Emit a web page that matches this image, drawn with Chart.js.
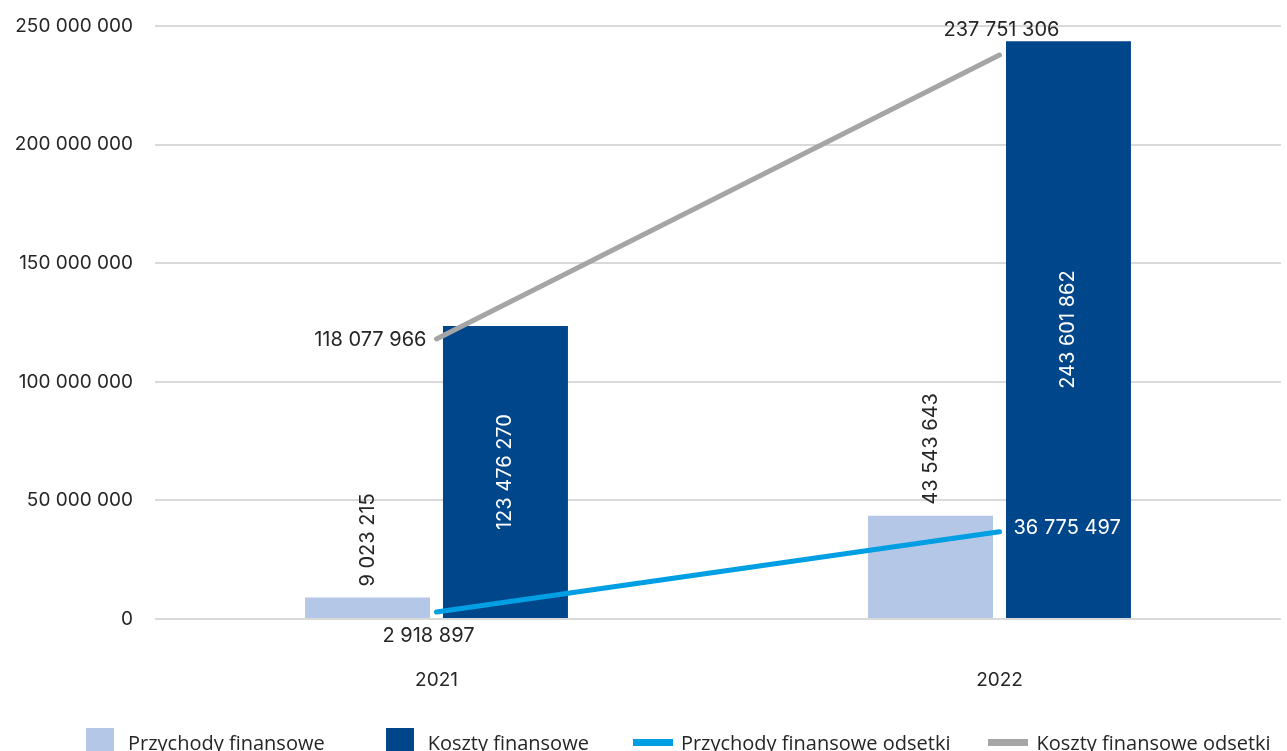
<!DOCTYPE html>
<html>
<head>
<meta charset="utf-8">
<script src="https://cdn.jsdelivr.net/npm/chart.js@4/dist/chart.umd.min.js"></script>
<style>
    html, body { margin: 0; padding: 0; background: #fff; overflow: hidden; }
    #wrap { position: relative; width: 1287px; height: 751px; }
    #legend { position: absolute; left: 86px; top: 728px; display: flex; align-items: center; font-family: "Open Sans", sans-serif; font-size: 20px; color: #262626; white-space: nowrap; }
    .item { display: flex; align-items: center; margin-right: 44px; height: 28px; }
    .item:first-child { margin-right: 61px; }
    .item:nth-child(3) { margin-right: 38px; }
    .item .sw { margin-right: 14px; }
</style>
</head>
<body>
<div id="wrap">
    <canvas id="chart" width="1287" height="751"></canvas>
    <div id="legend"></div>
</div>
<script>
// dane
var years = ['2021', '2022'];
var przychodyFin = [9023215, 43543643];
var kosztyFin = [123476270, 243601862];
var przychodyOdsetki = [2918897, 36775497];
var kosztyOdsetki = [118077966, 237751306];
var yTicks = [0, 50000000, 100000000, 150000000, 200000000, 250000000];

var FONT = 'Inter, "Noto Sans", sans-serif';
var TEXT = '#262626';

function fmt(v) {
    return String(Math.round(v)).replace(/\B(?=(\d{3})+(?!\d))/g, ' ');
}

// etykiety danych (bez pluginu datalabels)
var labelsPlugin = {
    id: 'valueLabels',
    afterDatasetsDraw: function (chart) {
        var ctx = chart.ctx;
        chart.data.datasets.forEach(function (ds, di) {
            var meta = chart.getDatasetMeta(di);
            meta.data.forEach(function (el, i) {
                var txt = fmt(ds.data[i]);
                var pos = ds.labelPos[i];
                ctx.save();
                ctx.font = '20px ' + FONT;
                ctx.fillStyle = ds.labelColor[i];
                if (pos === 'top-rot') {
                    ctx.translate(el.x, el.y - 11);
                    ctx.rotate(-Math.PI / 2);
                    ctx.textAlign = 'left';
                    ctx.textBaseline = 'middle';
                    ctx.fillText(txt, 0, 0);
                } else if (pos === 'center-rot') {
                    ctx.translate(el.x, (el.y + el.base) / 2);
                    ctx.rotate(-Math.PI / 2);
                    ctx.textAlign = 'center';
                    ctx.textBaseline = 'middle';
                    ctx.fillText(txt, 0, 0);
                } else if (pos === 'below') {
                    ctx.textAlign = 'center';
                    ctx.textBaseline = 'middle';
                    ctx.fillText(txt, el.x - 8, el.y + 24);
                } else if (pos === 'right') {
                    ctx.textAlign = 'left';
                    ctx.textBaseline = 'middle';
                    ctx.fillText(txt, el.x + 14, el.y - 4);
                } else if (pos === 'left') {
                    ctx.textAlign = 'right';
                    ctx.textBaseline = 'middle';
                    ctx.fillText(txt, el.x - 10, el.y + 1);
                } else if (pos === 'above') {
                    ctx.textAlign = 'center';
                    ctx.textBaseline = 'middle';
                    ctx.fillText(txt, el.x + 2, el.y - 25);
                }
                ctx.restore();
            });
        });
    }
};

var datasets = [
    {
        type: 'bar',
        label: 'Przychody finansowe',
        data: przychodyFin,
        backgroundColor: '#B4C7E7',
        order: 2,
        labelPos: ['top-rot', 'top-rot'],
        labelColor: [TEXT, TEXT]
    },
    {
        type: 'bar',
        label: 'Koszty finansowe',
        data: kosztyFin,
        backgroundColor: '#00468A',
        order: 2,
        labelPos: ['center-rot', 'center-rot'],
        labelColor: ['#fff', '#fff']
    },
    {
        type: 'line',
        label: 'Przychody finansowe odsetki',
        data: przychodyOdsetki,
        borderColor: '#009FE3',
        borderWidth: 5,
        borderCapStyle: 'round',
        pointRadius: 0,
        order: 1,
        labelPos: ['below', 'right'],
        labelColor: [TEXT, '#fff']
    },
    {
        type: 'line',
        label: 'Koszty finansowe odsetki',
        data: kosztyOdsetki,
        borderColor: '#A5A5A5',
        borderWidth: 5,
        borderCapStyle: 'round',
        pointRadius: 0,
        order: 1,
        labelPos: ['left', 'above'],
        labelColor: [TEXT, TEXT]
    }
];

var chart = new Chart(document.getElementById('chart'), {
    type: 'bar',
    data: { labels: years, datasets: datasets },
    plugins: [labelsPlugin],
    options: {
        responsive: false,
        animation: false,
        categoryPercentage: 0.49,
        barPercentage: 0.906,
        layout: { padding: { top: 26, right: 6, bottom: 60, left: 0 } },
        plugins: {
            legend: { display: false },
            tooltip: { enabled: false }
        },
        scales: {
            x: {
                grid: { display: false, drawTicks: false },
                border: { display: false },
                ticks: { color: TEXT, font: { family: FONT, size: 19 }, padding: 50 },
                afterFit: function (s) { s.height = 72; s.paddingLeft = 0; s.paddingRight = 0; }
            },
            y: {
                min: 0,
                max: 250000000,
                afterBuildTicks: function (s) {
                    s.ticks = yTicks.map(function (v) { return { value: v }; });
                },
                grid: { color: '#D9D9D9', lineWidth: 2, drawTicks: false },
                border: { display: false },
                ticks: {
                    color: TEXT,
                    font: { family: FONT, size: 19 },
                    padding: 22,
                    callback: function (v) { return fmt(v); }
                },
                afterFit: function (s) { s.width = 155; s.paddingTop = 0; s.paddingBottom = 0; }
            }
        }
    }
});

// legenda jako HTML
var legendEl = document.getElementById('legend');
datasets.forEach(function (ds) {
    var item = document.createElement('div');
    item.className = 'item';
    var sw = document.createElement('span');
    sw.className = 'sw';
    if (ds.type === 'bar') {
        sw.style.cssText = 'display:inline-block;width:28px;height:28px;background:' + ds.backgroundColor;
    } else {
        sw.style.cssText = 'display:inline-block;width:40px;height:7px;background:' + ds.borderColor;
        sw.style.marginRight = '8px';
    }
    var t = document.createElement('span');
    t.textContent = ds.label;
    item.appendChild(sw);
    item.appendChild(t);
    legendEl.appendChild(item);
});
</script>
</body>
</html>
